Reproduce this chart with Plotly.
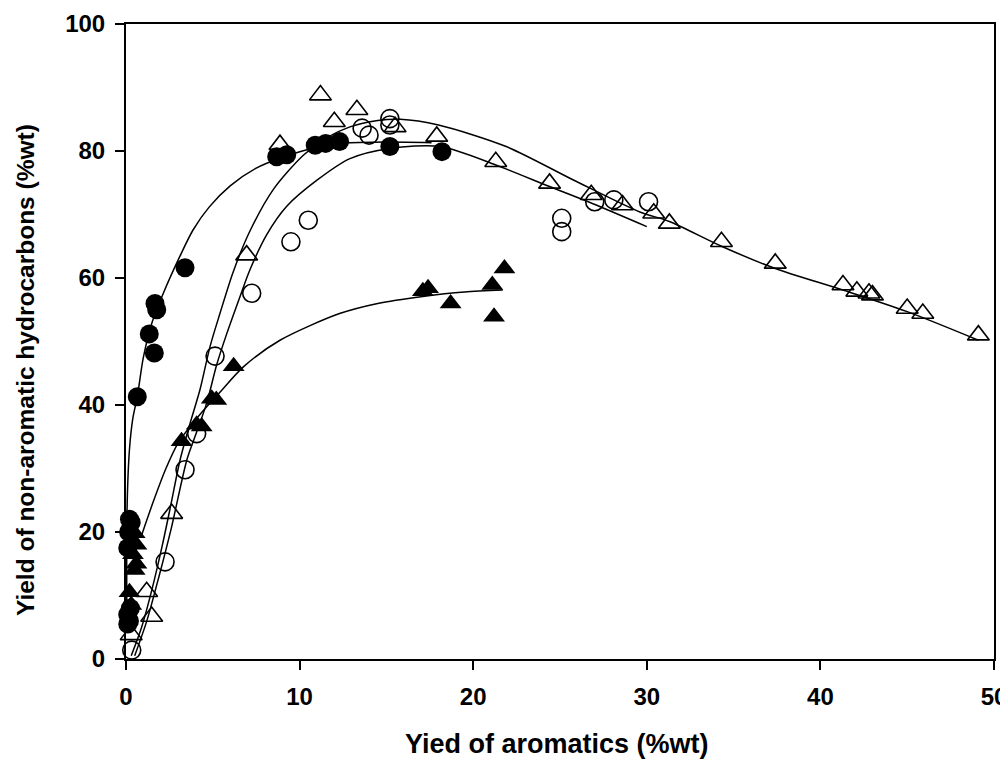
import plotly.graph_objects as go

# ---- measured points ----
fc_x = [0.2, 0.3, 0.15, 0.1, 0.25, 0.1, 0.2, 0.1,
        0.65, 1.34, 1.63, 1.67, 1.77, 3.4, 8.68, 9.26, 10.9, 11.5, 12.3, 15.2, 18.2]
fc_y = [22, 21.5, 20, 17.5, 8, 7, 6, 5.5,
        41.3, 51.2, 48.2, 56.0, 55.0, 61.6, 79.1, 79.4, 80.9, 81.2, 81.5, 80.7, 79.9]

ft_x = [0.5, 0.6, 0.4, 0.6, 0.5, 0.2, 0.3,
        3.2, 4.07, 4.36, 4.94, 5.2, 6.2, 17.1, 17.4, 18.7, 21.1, 21.2, 21.8]
ft_y = [19.8, 18, 16.5, 15, 14, 10.5, 8.5,
        34.3, 36.9, 36.6, 41.0, 40.8, 46.1, 57.9, 58.4, 56.0, 58.9, 53.9, 61.5]

oc_x = [0.33, 2.25, 3.4, 4.07, 5.13, 7.24, 9.5, 10.5, 13.6, 14.0, 15.2, 15.2,
        25.1, 25.1, 27.0, 28.1, 30.1]
oc_y = [1.4, 15.3, 29.8, 35.5, 47.7, 57.6, 65.7, 69.1, 83.6, 82.5, 85.1, 84.1,
        69.4, 67.3, 72.0, 72.3, 72.0]

ot_x = [0.3, 1.19, 1.48, 2.63, 6.95, 8.87, 11.2, 12.0, 13.3, 15.5, 17.9, 21.3, 24.4,
        26.8, 28.6, 30.4, 31.3, 34.3, 37.4, 41.3, 42.1, 42.8, 43.0, 45.0, 45.9, 49.1]
ot_y = [3.8, 10.6, 6.7, 22.9, 63.6, 81.0, 88.8, 84.6, 86.5, 83.8, 82.3, 78.3, 74.9,
        73.1, 71.5, 70.2, 68.6, 65.7, 62.3, 58.9, 57.9, 57.6, 57.3, 55.2, 54.4, 51.0]

# ---- fitted curves ----
fc_fit_x = [0.05, 0.06, 0.2, 0.4, 0.65, 1.0, 1.5, 2.15, 3.1, 3.87, 4.8, 6.0, 7.5,
            8.9, 11.0, 12.5, 15.0, 17.6]
fc_fit_y = [5, 23.5, 33, 38, 41.3, 47.5, 53, 57.6, 63.4, 67.6, 71.2, 74.5, 77.3,
            78.9, 80.6, 81.2, 81.4, 81.3]

ft_fit_x = [0.9, 1.6, 2.3, 3.0, 4.26, 5.41, 6.76, 8.87, 12.3, 14.5, 17.1, 19.5, 21.7]
ft_fit_y = [19.5, 25, 30, 34, 38.5, 42, 46, 50.2, 54.4, 56, 57.1, 57.8, 58.1]

oc_fit_x = [0.5, 1.2, 1.9, 2.6, 3.5, 3.97, 4.65, 5.22, 5.8, 6.57, 7.14, 8.1, 9.26,
            11.0, 12.9, 15.2, 18.1, 21.3, 24.4, 26.9, 30.0]
oc_fit_y = [0.5, 6, 13, 20.5, 31.3, 35.0, 40.3, 46.3, 51.2, 57.1, 61.3, 66.8, 71.3,
            75.4, 78.8, 80.4, 80.7, 77.8, 74.4, 71.7, 68.1]

ot_fit_x = [0.3, 0.9, 1.5, 2.1, 2.6, 3.11, 3.69, 4.26, 4.84, 5.41, 6.18, 7.14, 8.5,
            10.2, 11.5, 12.9, 14.5, 15.8, 18.0, 21.9, 25.8, 29.6, 31.3, 34.3, 37.4,
            41.3, 45.0, 49.1]
ot_fit_y = [0.5, 5, 11, 18, 24.5, 31.3, 37.1, 42.4, 49.2, 54.4, 61, 67.4, 74,
            79.3, 82, 83.8, 84.8, 85.0, 84.1, 80.7, 75.4, 70.4, 68.9, 65, 61.5,
            58.1, 54.7, 50.2]

x_ticks = [0, 10, 20, 30, 40, 50]
y_ticks = [0, 20, 40, 60, 80, 100]
x_title = "Yied of aromatics (%wt)"
y_title = "Yield of non-aromatic hydrocarbons (%wt)"

fig = go.Figure()

for cx, cy in [(fc_fit_x, fc_fit_y), (ft_fit_x, ft_fit_y),
               (oc_fit_x, oc_fit_y), (ot_fit_x, ot_fit_y)]:
    fig.add_trace(go.Scatter(x=cx, y=cy, mode="lines",
                             line=dict(color="black", width=1.5, shape="spline", smoothing=0.8),
                             showlegend=False, hoverinfo="skip", cliponaxis=False))

fig.add_trace(go.Scatter(x=ot_x, y=ot_y, mode="markers", showlegend=False, cliponaxis=False,
                         marker=dict(symbol="triangle-up-open", size=19, color="black",
                                     line=dict(width=1.6, color="black"))))
fig.add_trace(go.Scatter(x=oc_x, y=oc_y, mode="markers", showlegend=False, cliponaxis=False,
                         marker=dict(symbol="circle-open", size=18, color="black",
                                     line=dict(width=1.6, color="black"))))
fig.add_trace(go.Scatter(x=ft_x, y=ft_y, mode="markers", showlegend=False, cliponaxis=False,
                         marker=dict(symbol="triangle-up", size=19, color="black",
                                     line=dict(width=0, color="black"))))
fig.add_trace(go.Scatter(x=fc_x, y=fc_y, mode="markers", showlegend=False, cliponaxis=False,
                         marker=dict(symbol="circle", size=19, color="black",
                                     line=dict(width=0, color="black"))))

fnt = "Liberation Sans, Arial, sans-serif"
tickfont = dict(family=fnt, size=24, color="black", weight="bold")
fig.update_layout(
    width=1000, height=754,
    margin=dict(l=118, r=14, t=16, b=103, autoexpand=False),
    paper_bgcolor="white", plot_bgcolor="white",
    font=dict(family=fnt, color="black"),
    xaxis=dict(range=[0, 50], tickvals=x_ticks, ticktext=[str(v) for v in x_ticks],
               showline=True, linecolor="black", linewidth=2, mirror=True,
               ticks="outside", ticklen=9, tickwidth=2, tickcolor="black",
               showgrid=False, zeroline=False, automargin=False,
               ticklabelstandoff=6, tickfont=tickfont),
    yaxis=dict(range=[0, 100], tickvals=y_ticks, ticktext=[str(v) for v in y_ticks],
               showline=True, linecolor="black", linewidth=2, mirror=True,
               ticks="outside", ticklen=9, tickwidth=2, tickcolor="black",
               showgrid=False, zeroline=False, automargin=False,
               ticklabelstandoff=5, tickfont=tickfont),
    annotations=[
        dict(text="<b>" + x_title + "</b>", xref="paper", yref="paper",
             x=(557 - 126) / 868, y=-(744 - 659) / 635, xanchor="center", yanchor="middle",
             showarrow=False, font=dict(family=fnt, size=27, color="black")),
        dict(text="<b>" + y_title + "</b>", xref="paper", yref="paper",
             x=-(126 - 25) / 868, y=(659 - 370) / 635, xanchor="center", yanchor="middle",
             textangle=-90, showarrow=False, font=dict(family=fnt, size=24.5, color="black")),
    ],
)

fig.write_html("out.html")
